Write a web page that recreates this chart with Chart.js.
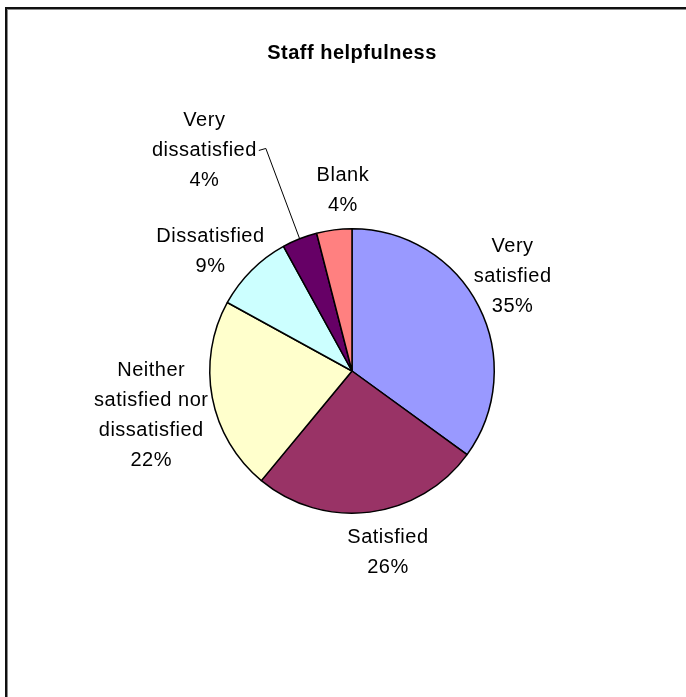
<!DOCTYPE html>
<html>
<head>
<meta charset="utf-8">
<script src="https://cdn.jsdelivr.net/npm/chart.js@4/dist/chart.umd.min.js"></script>
<style>
  html, body { margin: 0; padding: 0; background: #fff; overflow: hidden; }
  #c { display: block; }
</style>
</head>
<body>
<canvas id="c" width="686" height="697"></canvas>
<script>
// Survey answers for "Staff helpfulness", in percent, clockwise from the top.
const chartTitle = 'Staff helpfulness';
const categories = [
  ['Very', 'satisfied'],
  ['Satisfied'],
  ['Neither', 'satisfied nor', 'dissatisfied'],
  ['Dissatisfied'],
  ['Very', 'dissatisfied'],
  ['Blank']
];
const shares = [35, 26, 22, 9, 4, 4];
const sliceColors = ['#9999FF', '#993366', '#FFFFCC', '#CCFFFF', '#660066', '#FF8080'];

// Outer frame and title.
const frameAndTitle = {
  id: 'frameAndTitle',
  beforeDraw(chart, args, opts) {
    const ctx = chart.ctx;
    ctx.save();
    ctx.fillStyle = '#fff';
    ctx.fillRect(0, 0, chart.width, chart.height);
    ctx.strokeStyle = '#8a8a8a';
    ctx.lineWidth = 1;
    ctx.strokeRect(7.5, 9.5, chart.width + 20, chart.height + 20);
    ctx.strokeStyle = '#111';
    ctx.lineWidth = 2;
    ctx.strokeRect(6, 8, chart.width + 20, chart.height + 20);
    ctx.fillStyle = '#000';
    ctx.font = opts.font;
    ctx.letterSpacing = opts.letterSpacing;
    ctx.textAlign = 'center';
    ctx.textBaseline = 'middle';
    ctx.fillText(opts.text, opts.x, opts.y);
    ctx.restore();
  }
};

// Category name + percentage next to each slice, placed outside the rim
// along the slice's middle angle; optional leader line back to the rim.
const sliceLabels = {
  id: 'sliceLabels',
  afterDatasetsDraw(chart, args, opts) {
    const ctx = chart.ctx;
    const meta = chart.getDatasetMeta(0);
    const data = chart.data.datasets[0].data;
    const total = data.reduce((a, b) => a + b, 0);
    ctx.save();
    ctx.font = opts.font;
    ctx.letterSpacing = opts.letterSpacing;
    ctx.fillStyle = opts.color;
    ctx.textAlign = 'center';
    ctx.textBaseline = 'middle';
    meta.data.forEach((arc, i) => {
      const p = arc.getProps(['x', 'y', 'startAngle', 'endAngle', 'outerRadius'], true);
      const mid = (p.startAngle + p.endAngle) / 2;
      const dx = Math.cos(mid), dy = Math.sin(mid);
      const lines = [...chart.data.labels[i], Math.round(data[i] / total * 100) + '%'];
      const w = Math.max(...lines.map(l => ctx.measureText(l).width));
      const h = lines.length * opts.lineHeight;
      const nudge = opts.nudge[i] || [0, 0];
      const ax = p.x + dx * (p.outerRadius + opts.gap);
      const ay = p.y + dy * (p.outerRadius + opts.gap);
      const cx = ax + dx * w / 2 + nudge[0];
      const cy = ay + dy * h / 2 + nudge[1];
      lines.forEach((l, k) => ctx.fillText(l, cx, cy - h / 2 + opts.lineHeight * (k + 0.5)));
      if (opts.leader.includes(i)) {
        const ly = cy - h / 2 + opts.lineHeight * 1.5;
        const lx = cx + w / 2 + 2;
        ctx.strokeStyle = '#000';
        ctx.lineWidth = 1;
        ctx.beginPath();
        ctx.moveTo(lx, ly);
        ctx.lineTo(lx + 7, ly - 2);
        ctx.lineTo(p.x + dx * p.outerRadius, p.y + dy * p.outerRadius);
        ctx.stroke();
      }
    });
    ctx.restore();
  }
};

new Chart(document.getElementById('c'), {
  type: 'pie',
  data: {
    labels: categories,
    datasets: [{
      data: shares,
      backgroundColor: sliceColors,
      borderColor: '#000',
      borderWidth: 1.5,
      borderAlign: 'center'
    }]
  },
  options: {
    responsive: false,
    animation: false,
    devicePixelRatio: 1,
    layout: { padding: { left: 209, right: 191, top: 228, bottom: 183 } },
    plugins: {
      legend: { display: false },
      tooltip: { enabled: false },
      title: { display: false },
      frameAndTitle: {
        text: chartTitle,
        font: 'bold 20px "Liberation Sans", Arial, sans-serif',
        letterSpacing: '0.5px',
        x: 352,
        y: 53
      },
      sliceLabels: {
        font: '20px "Liberation Sans", Arial, sans-serif',
        letterSpacing: '0.5px',
        color: '#000',
        lineHeight: 30,
        gap: 8,
        nudge: [[-8, -6], [12, 3], [3, 5], [3, 8], [-73, -39], [13, -2]],
        leader: [4]
      }
    }
  },
  plugins: [frameAndTitle, sliceLabels]
});
</script>
</body>
</html>
